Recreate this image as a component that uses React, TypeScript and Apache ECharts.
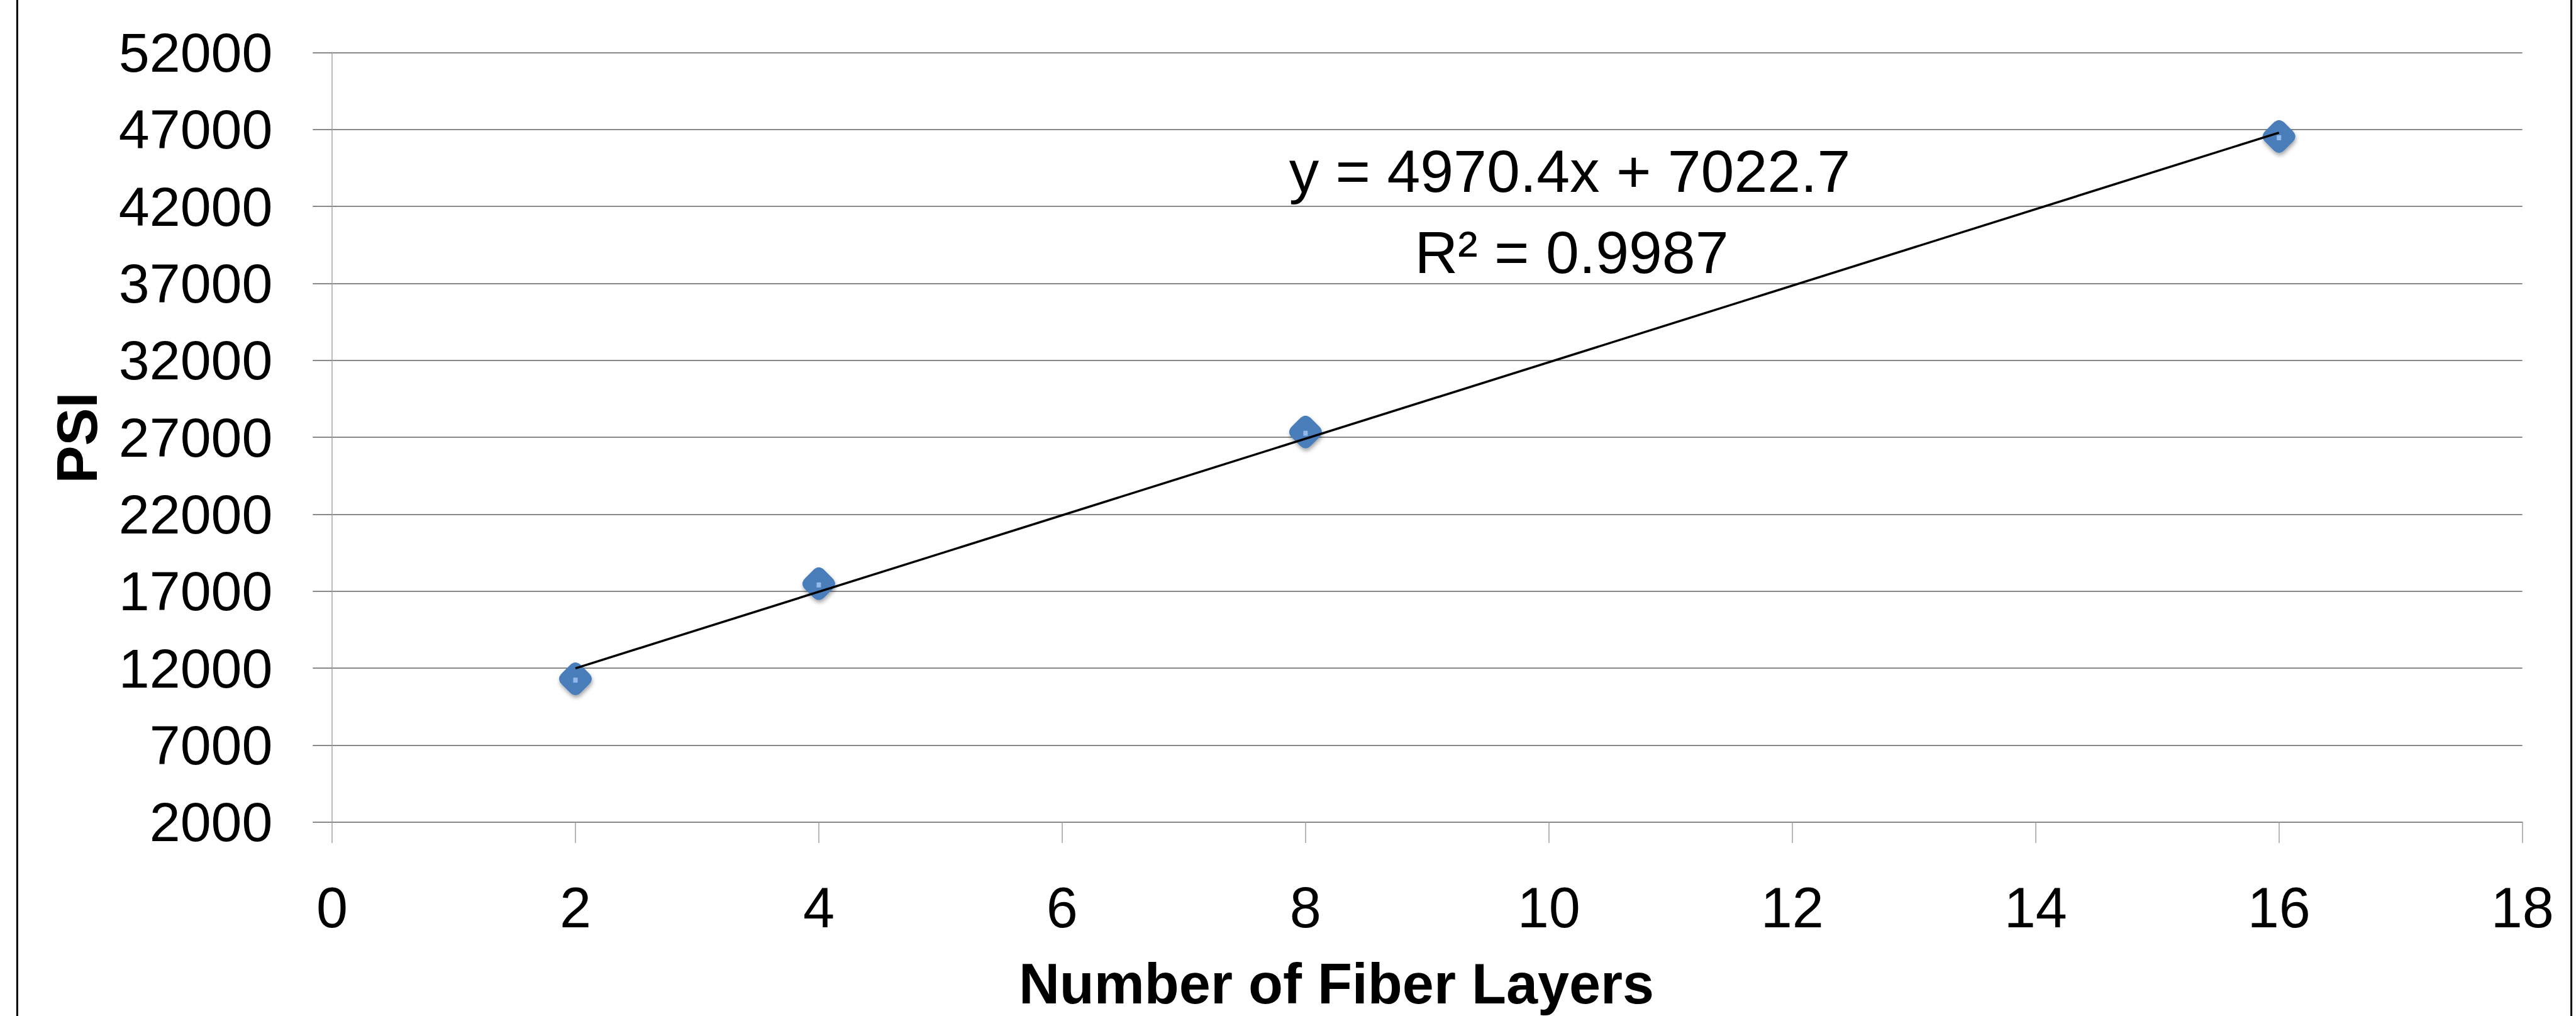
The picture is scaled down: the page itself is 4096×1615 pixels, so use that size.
import { useEffect, useRef } from "react";
import * as echarts from "echarts";

// ---- data ----
const fiberLayers = [2, 4, 8, 16];
const psiValues = [11310, 17490, 27345, 46540];
const trendX = [2, 16];
const trendY = [11995, 46790];
const yMin = 2000;
const yMax = 52000;
const yStep = 5000;
const xMin = 0;
const xMax = 18;
const xStep = 2;
const equationLines = ["y = 4970.4x + 7022.7", "R² = 0.9987"];
const xTitle = "Number of Fiber Layers";
const yTitle = "PSI";

const FONT = "'Liberation Sans', Arial, sans-serif";
const GRID_GRAY = "#898989";
const BLUE = "#4a7ebb";
const ROUNDED_DIAMOND =
  "path://M35 15Q50 0 65 15L85 35Q100 50 85 65L65 85Q50 100 35 85L15 65Q0 50 15 35Z";

export default function App() {
  const ref = useRef<HTMLDivElement>(null);

  useEffect(() => {
    if (!ref.current) return;
    const chart = echarts.init(ref.current, undefined, { renderer: "svg" });
    const points = fiberLayers.map((x, i) => [x, psiValues[i]]);
    const trend = trendX.map((x, i) => [x, trendY[i]]);

    chart.setOption({
      animation: false,
      backgroundColor: "#ffffff",
      grid: { left: 528, right: 85.3, top: 83.3, bottom: 308.1, containLabel: false },
      xAxis: {
        type: "value",
        min: xMin,
        max: xMax,
        interval: xStep,
        axisLine: { show: true, lineStyle: { color: GRID_GRAY, width: 2 } },
        axisTick: { show: true, length: 33, lineStyle: { color: "#a0a0a0", width: 1.5 } },
        splitLine: { show: false },
        axisLabel: {
          margin: 136,
          verticalAlign: "middle",
          color: "#000",
          fontFamily: FONT,
          fontSize: 90,
          formatter: (v: number) => String(v),
        },
      },
      yAxis: {
        type: "value",
        min: yMin,
        max: yMax,
        interval: yStep,
        axisLine: { show: true, lineStyle: { color: "#a6a6a6", width: 1.5 } },
        axisTick: { show: true, length: 30.7, lineStyle: { color: GRID_GRAY, width: 2 } },
        splitLine: { show: true, lineStyle: { color: GRID_GRAY, width: 2 } },
        axisLabel: {
          margin: 94.5,
          color: "#000",
          fontFamily: FONT,
          fontSize: 88,
          formatter: (v: number) => String(v),
        },
      },
      series: [
        {
          type: "scatter",
          data: points,
          symbol: ROUNDED_DIAMOND,
          symbolSize: 52,
          z: 2,
          itemStyle: {
            color: BLUE,
            opacity: 1,
            shadowBlur: 6,
            shadowOffsetX: 1,
            shadowOffsetY: 4,
            shadowColor: "rgba(0,0,0,0.35)",
          },
          silent: true,
        },
        {
          type: "scatter",
          data: points,
          symbol: "rect",
          symbolSize: [7, 8],
          symbolOffset: [0, 2],
          z: 3,
          itemStyle: { color: "#93b9ea", opacity: 1 },
          silent: true,
        },
        {
          type: "line",
          data: trend,
          showSymbol: false,
          symbol: "none",
          z: 4,
          lineStyle: { color: "#000", width: 3.5 },
          silent: true,
        },
      ],
      graphic: [
        {
          type: "rect",
          silent: true,
          shape: { x: 27.4, y: -20, width: 4061.2, height: 1660 },
          style: { fill: "none", stroke: "#000", lineWidth: 3 },
          z: 100,
        },
        {
          type: "text",
          x: 2496,
          y: 272,
          style: {
            text: equationLines[0],
            font: `95px ${FONT}`,
            fill: "#000",
            align: "center",
            verticalAlign: "middle",
            textAlign: "center",
            textVerticalAlign: "middle",
          },
        },
        {
          type: "text",
          x: 2499,
          y: 401,
          style: {
            text: equationLines[1],
            font: `95px ${FONT}`,
            fill: "#000",
            align: "center",
            verticalAlign: "middle",
            textAlign: "center",
            textVerticalAlign: "middle",
          },
        },
        {
          type: "text",
          x: 122.7,
          y: 696,
          rotation: Math.PI / 2,
          style: {
            text: yTitle,
            font: `bold 90px ${FONT}`,
            fill: "#000",
            align: "center",
            verticalAlign: "middle",
            textAlign: "center",
            textVerticalAlign: "middle",
          },
        },
        {
          type: "text",
          x: 2125,
          y: 1564,
          style: {
            text: xTitle,
            font: `bold 90px ${FONT}`,
            fill: "#000",
            align: "center",
            verticalAlign: "middle",
            textAlign: "center",
            textVerticalAlign: "middle",
          },
        },
      ],
    });

    return () => {
      chart.dispose();
    };
  }, []);

  return (
    <div
      ref={ref}
      style={{ position: "absolute", left: 0, top: 0, width: 4096, height: 1615, background: "#fff" }}
    />
  );
}
